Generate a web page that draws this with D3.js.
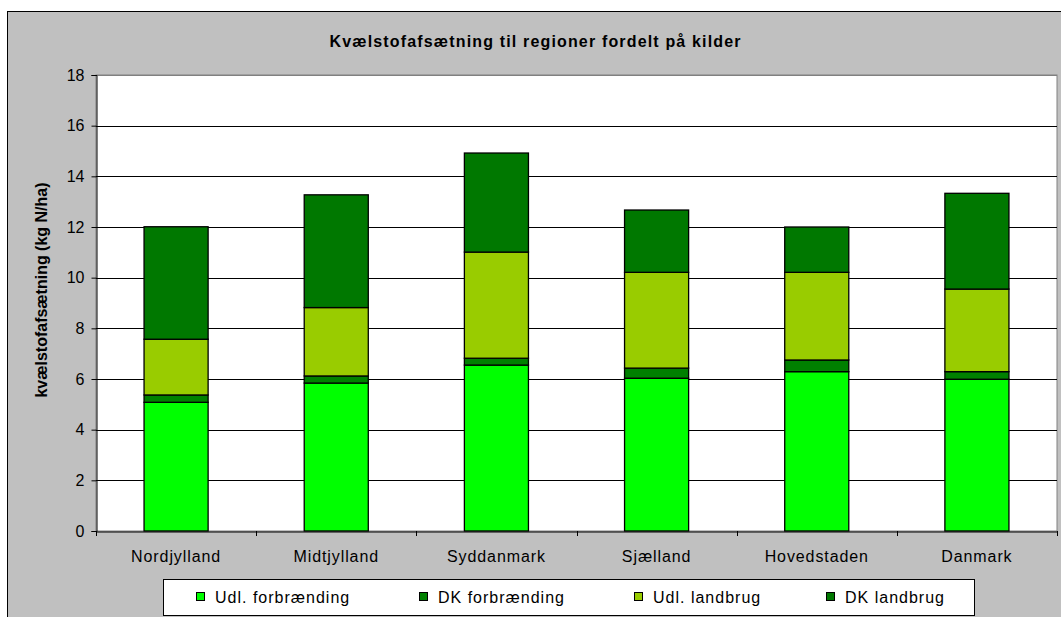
<!DOCTYPE html>
<html>
<head>
<meta charset="utf-8">
<script src="https://cdn.jsdelivr.net/npm/d3@7"></script>
<style>
  body { margin: 0; background: #fff; }
  text { font-family: "Liberation Sans", Arial, sans-serif; }
</style>
</head>
<body>
<script>
var w = 1061;
var h = 617;

// data
var regions = ["Nordjylland", "Midtjylland", "Syddanmark", "Sjælland", "Hovedstaden", "Danmark"];
var series = ["Udl. forbrænding", "DK forbrænding", "Udl. landbrug", "DK landbrug"];
var udlForbr = [5.08, 5.84, 6.55, 6.03, 6.29, 5.99];
var dkForbr = [0.29, 0.28, 0.27, 0.40, 0.46, 0.30];
var udlLandbrug = [2.20, 2.70, 4.19, 3.78, 3.46, 3.26];
var dkLandbrug = [4.44, 4.45, 3.91, 2.46, 1.79, 3.78];
var yTicks = [0, 2, 4, 6, 8, 10, 12, 14, 16, 18];
var colors = ["#00ff00", "#008000", "#99cc00", "#007800"];

var rows = regions.map(function (r, i) {
    return {
        region: r,
        "Udl. forbrænding": udlForbr[i],
        "DK forbrænding": dkForbr[i],
        "Udl. landbrug": udlLandbrug[i],
        "DK landbrug": dkLandbrug[i]
    };
});

var plot = {left: 96, right: 1057, top: 75, bottom: 531};

var svg = d3.select("body")
        .append("svg")
        .attr("width", w)
        .attr("height", h);

// chart area (grey, runs past the window on right and bottom)
svg.append("rect")
        .attr("x", 7.5)
        .attr("y", 11.5)
        .attr("width", w + 20)
        .attr("height", h + 20)
        .style("fill", "#c0c0c0")
        .style("stroke", "#000")
        .style("stroke-width", 1);

var x = d3.scaleBand()
        .domain(regions)
        .range([plot.left, plot.right])
        .paddingInner(0.6)
        .paddingOuter(0.3);

var y = d3.scaleLinear()
        .domain([0, 18])
        .range([plot.bottom, plot.top]);

// plot area
svg.append("rect")
        .attr("x", plot.left)
        .attr("y", plot.top)
        .attr("width", plot.right - plot.left)
        .attr("height", plot.bottom - plot.top)
        .style("fill", "#fff")
        .style("stroke", "#808080")
        .style("stroke-width", 1);

// gridlines
svg.append("g")
        .selectAll("line")
        .data(yTicks.slice(1))
        .enter()
        .append("line")
        .attr("x1", plot.left)
        .attr("x2", plot.right)
        .attr("y1", function (d) { return Math.round(y(d)) + 0.5; })
        .attr("y2", function (d) { return Math.round(y(d)) + 0.5; })
        .style("stroke", function (d) { return d === 18 ? "#808080" : "#000"; })
        .style("stroke-width", 1);

var stack = d3.stack().keys(series);
var layers = stack(rows);

svg.append("g")
        .selectAll("g")
        .data(layers)
        .enter()
        .append("g")
        .style("fill", function (d, i) { return colors[i]; })
        .selectAll("rect")
        .data(function (d) { return d; })
        .enter()
        .append("rect")
        .attr("x", function (d) { return x(d.data.region); })
        .attr("width", x.bandwidth())
        .attr("y", function (d) { return y(d[1]); })
        .attr("height", function (d) { return y(d[0]) - y(d[1]); })
        .style("stroke", "#000")
        .style("stroke-width", 1.3);

// y axis
var yAxis = d3.axisLeft(y)
        .tickValues(yTicks)
        .tickSize(5)
        .tickPadding(7);

var gy = svg.append("g")
        .attr("transform", "translate(" + (plot.left + 0.5) + ",0)")
        .call(yAxis);
gy.selectAll("text").style("font-size", "16px").style("fill", "#000");
gy.selectAll("line, path").style("stroke", "#000");

// x axis: ticks sit between categories
var xAxis = d3.axisBottom(x).tickSize(0).tickPadding(19);
var gx = svg.append("g")
        .attr("transform", "translate(0," + (plot.bottom + 0.5) + ")")
        .call(xAxis);
gx.select("path").style("stroke", "#000");
gx.selectAll("text")
        .style("font-size", "16px")
        .style("letter-spacing", "0.9px")
        .style("fill", "#000");

svg.append("g")
        .selectAll("line")
        .data(d3.range(regions.length + 1))
        .enter()
        .append("line")
        .attr("x1", function (i) { return Math.round(plot.left + i * (plot.right - plot.left) / regions.length) + 0.5; })
        .attr("x2", function (i) { return Math.round(plot.left + i * (plot.right - plot.left) / regions.length) + 0.5; })
        .attr("y1", plot.bottom)
        .attr("y2", plot.bottom + 5)
        .style("stroke", "#000");

// title
svg.append("text")
        .attr("x", 535)
        .attr("y", 47)
        .attr("text-anchor", "middle")
        .attr("textLength", 411)
        .attr("lengthAdjust", "spacing")
        .style("font-size", "16px")
        .style("font-weight", "bold")
        .text("Kvælstofafsætning til regioner fordelt på kilder");

// y axis title
svg.append("text")
        .attr("transform", "translate(47,290) rotate(-90)")
        .attr("text-anchor", "middle")
        .style("font-size", "16px")
        .style("font-weight", "bold")
        .text("kvælstofafsætning (kg N/ha)");

// legend
var legend = svg.append("g");
legend.append("rect")
        .attr("x", 163.5)
        .attr("y", 579.5)
        .attr("width", 811)
        .attr("height", 36)
        .style("fill", "#fff")
        .style("stroke", "#000");

var legendX = [196, 419, 634, 826];
var item = legend.selectAll("g.item")
        .data(series)
        .enter()
        .append("g")
        .attr("class", "item")
        .attr("transform", function (d, i) { return "translate(" + legendX[i] + ",597)"; });

item.append("rect")
        .attr("x", 0.5)
        .attr("y", -4.5)
        .attr("width", 8)
        .attr("height", 8)
        .style("fill", function (d, i) { return colors[i]; })
        .style("stroke", "#000");

item.append("text")
        .attr("x", 19)
        .attr("y", 6)
        .style("font-size", "16px")
        .style("letter-spacing", "1px")
        .text(function (d) { return d; });
</script>
</body>
</html>
